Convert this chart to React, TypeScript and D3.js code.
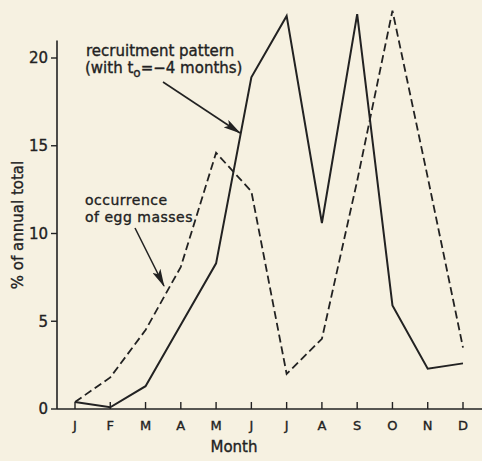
import { useEffect, useRef } from 'react';
import * as d3 from 'd3';

// month tick labels
const months = ['J', 'F', 'M', 'A', 'M', 'J', 'J', 'A', 'S', 'O', 'N', 'D'];
// % of annual total, solid line
const recruitment = [0.4, 0.1, 1.3, 4.8, 8.3, 18.9, 22.4, 10.6, 22.5, 5.9, 2.3, 2.6];
// % of annual total, dashed line
const eggMasses = [0.4, 1.8, 4.5, 8.1, 14.6, 12.4, 2.0, 4.0, 13.0, 22.7, 13.2, 3.5];
const yTicks = [0, 5, 10, 15, 20];

const INK = '#222222';
const FONT = 'DejaVu Sans, sans-serif';

const App = () => {
  const ref = useRef<HTMLDivElement>(null);

  useEffect(() => {
    const W = 482, H = 461;
    d3.select(ref.current).selectAll('svg').remove();

    const svg = d3.select(ref.current)
      .append('svg')
      .attr('width', W)
      .attr('height', H)
      .style('position', 'absolute')
      .style('left', '0px')
      .style('top', '0px');

    svg.append('rect').attr('width', W).attr('height', H).attr('fill', '#f6f1e1');

    const x = d3.scaleLinear().domain([0, 11]).range([75, 463]);
    const y = d3.scaleLinear().domain([0, 20]).range([409, 58]);
    const axisX = 57;

    // little helper so all text gets the same slightly heavy look
    const label = (sel, size) => sel
      .style('font-family', FONT).style('font-size', `${size}px`)
      .attr('fill', INK).attr('stroke', INK).attr('stroke-width', 0.35);

    // axes lines
    svg.append('line')
      .attr('x1', axisX).attr('x2', axisX)
      .attr('y1', y(0)).attr('y2', y(21))
      .attr('stroke', INK).attr('stroke-width', 1.6);
    svg.append('line')
      .attr('x1', axisX).attr('x2', W)
      .attr('y1', y(0)).attr('y2', y(0))
      .attr('stroke', INK).attr('stroke-width', 1.6);

    // y ticks (outside) + labels
    const yt = svg.append('g');
    yTicks.forEach(t => {
      yt.append('line')
        .attr('x1', axisX - 6).attr('x2', axisX)
        .attr('y1', y(t)).attr('y2', y(t))
        .attr('stroke', INK).attr('stroke-width', 1.4);
      label(yt.append('text'), 15)
        .attr('x', axisX - 9).attr('y', y(t))
        .attr('dy', '0.36em')
        .attr('text-anchor', 'end')
        .text(t);
    });

    // x ticks (inside) + labels
    const xt = svg.append('g');
    months.forEach((m, i) => {
      xt.append('line')
        .attr('x1', x(i)).attr('x2', x(i))
        .attr('y1', y(0)).attr('y2', y(0) - 7)
        .attr('stroke', INK).attr('stroke-width', 1.4);
      label(xt.append('text'), 13)
        .attr('x', x(i)).attr('y', 430)
        .attr('text-anchor', 'middle')
        .text(m);
    });

    label(svg.append('text'), 15)
      .attr('x', 234).attr('y', 452)
      .attr('text-anchor', 'middle')
      .text('Month');

    label(svg.append('text'), 15)
      .attr('transform', `translate(23,225) rotate(-90)`)
      .attr('text-anchor', 'middle')
      .text('% of annual total');

    // lines
    const line = d3.line<number>()
      .x((d, i) => x(i))
      .y(d => y(d));

    svg.append('path')
      .datum(eggMasses)
      .attr('fill', 'none')
      .attr('stroke', INK)
      .attr('stroke-width', 1.8)
      .attr('stroke-dasharray', '8,4')
      .attr('d', line);

    svg.append('path')
      .datum(recruitment)
      .attr('fill', 'none')
      .attr('stroke', INK)
      .attr('stroke-width', 2)
      .attr('d', line);

    // arrow marker
    svg.append('defs').append('marker')
      .attr('id', 'head')
      .attr('viewBox', '0 0 18 9')
      .attr('refX', 17).attr('refY', 4.5)
      .attr('markerWidth', 18).attr('markerHeight', 9)
      .attr('markerUnits', 'userSpaceOnUse')
      .attr('orient', 'auto')
      .append('path')
      .attr('d', 'M0,0 L18,4.5 L0,9 L4,4.5 Z')
      .attr('fill', INK);

    // annotation: recruitment
    label(svg.append('text'), 15)
      .attr('x', 86).attr('y', 56)
      .text('recruitment pattern');
    const l2 = label(svg.append('text'), 15)
      .attr('x', 85).attr('y', 73);
    l2.append('tspan').text('(with t');
    l2.append('tspan').attr('dy', 4).style('font-size', '12px').text('o');
    l2.append('tspan').attr('dy', -4).text('=\u22124 months)');

    svg.append('line')
      .attr('x1', 163).attr('y1', 82)
      .attr('x2', 240).attr('y2', 133)
      .attr('stroke', INK).attr('stroke-width', 1.6)
      .attr('marker-end', 'url(#head)');

    // annotation: egg masses
    label(svg.append('text'), 14)
      .attr('x', 85).attr('y', 205)
      .style('letter-spacing', '0.5px')
      .text('occurrence');
    label(svg.append('text'), 14)
      .attr('x', 85).attr('y', 222)
      .style('letter-spacing', '0.5px')
      .text('of egg masses');

    svg.append('line')
      .attr('x1', 135).attr('y1', 228)
      .attr('x2', 164).attr('y2', 286)
      .attr('stroke', INK).attr('stroke-width', 1.6)
      .attr('marker-end', 'url(#head)');
  }, []);

  return <div ref={ref}></div>;
};

export default App;
